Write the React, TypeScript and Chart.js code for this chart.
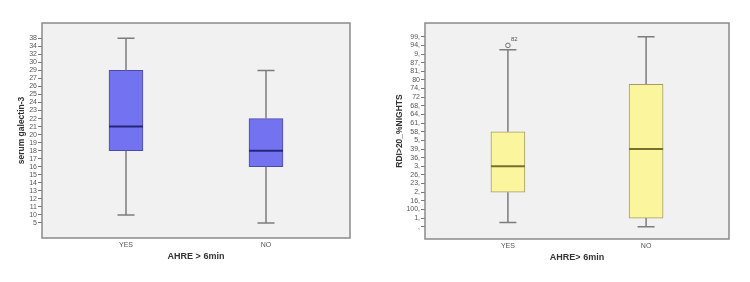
import React, { useEffect, useRef } from "react";
import { Chart, registerables } from "chart.js";

Chart.register(...registerables);

// ---------- Data ----------
const CATEGORIES = ["YES", "NO"];

// Left chart: serum galectin-3 (ordinal axis, SPSS string variable)
const LEFT_Y_LABELS = ["5", "10", "11", "12", "13", "14", "15", "16", "17", "18", "19", "20", "21", "22", "23", "24", "25", "26", "27", "29", "30", "32", "34", "38"];
const LEFT_MIN: (string | number)[] = ["10", "5"];
const LEFT_Q1: (string | number)[] = ["18", "16"];
const LEFT_MEDIAN: (string | number)[] = ["21", "18"];
const LEFT_Q3: (string | number)[] = ["29", "22"];
const LEFT_MAX: (string | number)[] = ["38", "29"];

// Right chart: RDI>20_%NIGHTS (ordinal axis)
const RIGHT_Y_LABELS = [",", "1,", "100,", "16,", "2,", "23,", "26,", "3,", "36,", "39,", "5,", "58,", "61,", "64,", "68,", "72", "74,", "80", "81,", "87,", "9,", "94,", "99,"];
const RIGHT_MIN: (string | number)[] = [0.5, ","];
const RIGHT_Q1: (string | number)[] = ["2,", "1,"];
const RIGHT_MEDIAN: (string | number)[] = ["3,", "39,"];
const RIGHT_Q3: (string | number)[] = ["58,", 16.5];
const RIGHT_MAX: (string | number)[] = [20.5, "99,"];
const RIGHT_OUTLIERS = [{ cat: "YES", value: "94,", label: "82" }];

type Outlier = { cat: string; value: string | number; label: string };

type BoxProps = {
  yLabels: string[];
  min: (string | number)[];
  q1: (string | number)[];
  median: (string | number)[];
  q3: (string | number)[];
  max: (string | number)[];
  outliers: Outlier[];
  yTitle: string;
  xTitle: string;
  fill: string;
  border: string;
  medianColor: string;
  yMin: number;
  yMax: number;
  yAxisWidth: number;
  xAxisHeight: number;
  padRight: number;
  yTitlePad: number;
  xTitlePad: number;
};

function BoxChart(p: BoxProps) {
  const ref = useRef<HTMLCanvasElement | null>(null);
  useEffect(() => {
    if (!ref.current) return;
    const rank = (v: string | number) => (typeof v === "string" ? p.yLabels.indexOf(v) : v);
    const font = "'Liberation Sans', Arial, sans-serif";

    const extras = {
      id: "boxExtras",
      beforeDraw(chart: any) {
        const { ctx, chartArea } = chart;
        ctx.save();
        ctx.fillStyle = "#ffffff";
        ctx.fillRect(0, 0, chart.width, chart.height);
        ctx.fillStyle = "#f1f1f1";
        ctx.fillRect(chartArea.left, chartArea.top, chartArea.right - chartArea.left, chartArea.bottom - chartArea.top);
        ctx.restore();
      },
      afterDatasetsDraw(chart: any) {
        const { ctx } = chart;
        const xs = chart.scales.x;
        const ys = chart.scales.y;
        ctx.save();
        CATEGORIES.forEach((_, i) => {
          const px = xs.getPixelForValue(i);
          const yMaxP = ys.getPixelForValue(rank(p.max[i]));
          const yQ3P = ys.getPixelForValue(rank(p.q3[i]));
          const yQ1P = ys.getPixelForValue(rank(p.q1[i]));
          const yMinP = ys.getPixelForValue(rank(p.min[i]));
          const yMedP = ys.getPixelForValue(rank(p.median[i]));
          ctx.strokeStyle = "#7c7c7c";
          ctx.lineWidth = 1.5;
          ctx.beginPath();
          ctx.moveTo(px, yMaxP);
          ctx.lineTo(px, yQ3P);
          ctx.moveTo(px, yQ1P);
          ctx.lineTo(px, yMinP);
          ctx.moveTo(px - 8.5, yMaxP);
          ctx.lineTo(px + 8.5, yMaxP);
          ctx.moveTo(px - 8.5, yMinP);
          ctx.lineTo(px + 8.5, yMinP);
          ctx.stroke();
          ctx.strokeStyle = p.medianColor;
          ctx.lineWidth = 2;
          ctx.beginPath();
          ctx.moveTo(px - 17, yMedP);
          ctx.lineTo(px + 17, yMedP);
          ctx.stroke();
        });
        p.outliers.forEach((o) => {
          const px = xs.getPixelForValue(CATEGORIES.indexOf(o.cat));
          const py = ys.getPixelForValue(rank(o.value));
          ctx.fillStyle = "#555";
          ctx.font = `6px ${font}`;
          ctx.textAlign = "left";
          ctx.textBaseline = "middle";
          ctx.fillText(o.label, px + 3, py - 6);
        });
        ctx.restore();
      },
      afterDraw(chart: any) {
        const { ctx, chartArea } = chart;
        ctx.save();
        ctx.strokeStyle = "#8a8a8a";
        ctx.lineWidth = 1.5;
        ctx.strokeRect(chartArea.left, chartArea.top, chartArea.right - chartArea.left, chartArea.bottom - chartArea.top);
        ctx.restore();
      },
    };

    const chart = new Chart(ref.current, {
      type: "bar",
      data: {
        datasets: [
          {
            type: "bar",
            data: CATEGORIES.map((_, i) => ({ x: i, y: [rank(p.q1[i]), rank(p.q3[i])] })) as any,
            backgroundColor: p.fill,
            borderColor: p.border,
            borderWidth: 1,
            borderSkipped: false,
            barThickness: 34,
            grouped: false,
          } as any,
          {
            type: "scatter",
            data: p.outliers.map((o) => ({ x: CATEGORIES.indexOf(o.cat), y: rank(o.value) })),
            pointStyle: "circle",
            pointRadius: 2.3,
            backgroundColor: "rgba(0,0,0,0)",
            borderColor: "#707070",
            borderWidth: 1,
          } as any,
        ],
      },
      options: {
        animation: false,
        responsive: false,
        layout: { padding: { top: 23, right: p.padRight, left: 0, bottom: 0 } },
        plugins: { legend: { display: false }, tooltip: { enabled: false } },
        scales: {
          x: {
            type: "linear",
            min: -0.6,
            max: 1.6,
            offset: false,
            afterBuildTicks: (s: any) => {
              s.ticks = CATEGORIES.map((_, i) => ({ value: i }));
            },
            afterFit: (s: any) => {
              s.height = p.xAxisHeight;
            },
            ticks: {
              callback: (v: any) => CATEGORIES[v] ?? "",
              font: { size: 7, family: font },
              color: "#555",
              padding: 3,
              maxRotation: 0,
            },
            grid: { display: false, drawTicks: false, offset: false },
            border: { display: false },
            title: {
              display: true,
              text: p.xTitle,
              font: { size: 9, weight: "bold", family: font },
              color: "#333",
              padding: { top: 0, bottom: p.xTitlePad },
            },
          },
          y: {
            type: "linear",
            min: p.yMin,
            max: p.yMax,
            afterBuildTicks: (s: any) => {
              s.ticks = p.yLabels.map((_, i) => ({ value: i }));
            },
            afterFit: (s: any) => {
              s.width = p.yAxisWidth;
            },
            ticks: {
              callback: (v: any) => p.yLabels[v] ?? "",
              font: { size: 7, family: font },
              color: "#555",
              padding: 1,
              autoSkip: false,
            },
            grid: { drawOnChartArea: false, drawTicks: true, tickLength: 4, color: "#777" },
            border: { display: false },
            title: {
              display: true,
              text: p.yTitle,
              font: { size: 8.5, weight: "bold", family: font },
              color: "#333",
              padding: { top: p.yTitlePad, bottom: 0 },
            },
          },
        },
      } as any,
      plugins: [extras],
    });
    return () => chart.destroy();
  }, []);
  return <canvas ref={ref} width={375} height={282} style={{ display: "block" }} />;
}

export default function App() {
  return (
    <div style={{ position: "absolute", left: 0, top: 0, width: 750, height: 282, background: "#fff", display: "flex" }}>
      <BoxChart
        yLabels={LEFT_Y_LABELS}
        min={LEFT_MIN}
        q1={LEFT_Q1}
        median={LEFT_MEDIAN}
        q3={LEFT_Q3}
        max={LEFT_MAX}
        outliers={[]}
        yTitle="serum galectin-3"
        xTitle="AHRE > 6min"
        fill="#7373f2"
        border="#4c4ca0"
        medianColor="#262678"
        yMin={-1.87}
        yMax={24.9}
        yAxisWidth={42}
        xAxisHeight={44}
        padRight={25}
        yTitlePad={16.6}
        xTitlePad={20.5}
      />
      <BoxChart
        yLabels={RIGHT_Y_LABELS}
        min={RIGHT_MIN}
        q1={RIGHT_Q1}
        median={RIGHT_MEDIAN}
        q3={RIGHT_Q3}
        max={RIGHT_MAX}
        outliers={RIGHT_OUTLIERS}
        yTitle="RDI>20_%NIGHTS"
        xTitle="AHRE> 6min"
        fill="#fbf59e"
        border="#a39c6a"
        medianColor="#76702e"
        yMin={-1.42}
        yMax={23.59}
        yAxisWidth={50}
        xAxisHeight={43}
        padRight={21}
        yTitlePad={19.6}
        xTitlePad={19.5}
      />
    </div>
  );
}
